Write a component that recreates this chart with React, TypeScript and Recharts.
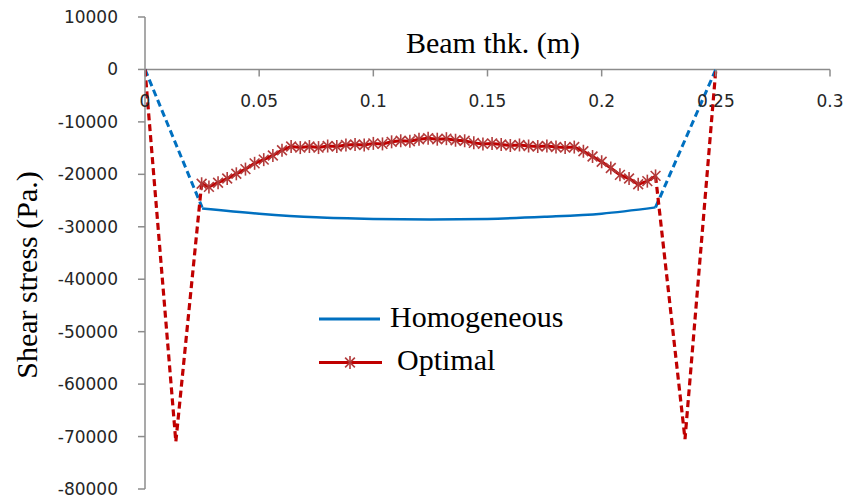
import React from 'react';
import { LineChart, Line, XAxis, YAxis, ReferenceLine } from 'recharts';

const xTicks = [0, 0.05, 0.1, 0.15, 0.2, 0.25, 0.3];
const yTicks = [10000, 0, -10000, -20000, -30000, -40000, -50000, -60000, -70000, -80000];

// Homogeneous: dashed edges + solid middle
const homLeftX = [0, 0.025];
const homLeftY = [0, -26300];
const homMidX = [0.025, 0.05, 0.075, 0.1, 0.125, 0.15, 0.175, 0.2, 0.2236];
const homMidY = [-26500, -27500, -28200, -28500, -28600, -28500, -28100, -27500, -26300];
const homRightX = [0.2236, 0.25];
const homRightY = [-26300, 0];

// Optimal: dashed edges + starred middle
const optLeftX = [0, 0.0135, 0.0248];
const optLeftY = [0, -71000, -21800];
const optMidX = [
  0.0248, 0.028, 0.032, 0.036, 0.04, 0.044, 0.048, 0.052, 0.056, 0.06, 0.064, 0.068, 0.072,
  0.076, 0.08, 0.084, 0.088, 0.092, 0.096, 0.1, 0.104, 0.108, 0.112, 0.116, 0.12, 0.124,
  0.128, 0.132, 0.136, 0.14, 0.144, 0.148, 0.152, 0.156, 0.16, 0.164, 0.168, 0.172, 0.176,
  0.18, 0.184, 0.188, 0.192, 0.196, 0.2, 0.204, 0.208, 0.212, 0.216, 0.22, 0.2236,
];
const optMidY = [
  -21800, -22400, -21600, -20800, -19900, -19000, -17900, -17200, -16400, -15400, -14700,
  -14900, -14700, -14900, -14600, -14700, -14400, -14300, -14400, -14100, -14200, -13800,
  -13600, -13700, -13300, -13100, -13300, -13200, -13500, -13600, -14000, -14200, -14100,
  -14300, -14500, -14400, -14600, -14700, -14600, -14800, -14900, -14800, -15600, -16600,
  -17600, -18800, -20100, -20800, -21900, -21300, -20300,
];
const optRightX = [0.2236, 0.2365, 0.25];
const optRightY = [-20300, -70500, 0];

const toPoints = (xs: number[], ys: number[]) => xs.map((x, i) => ({ x, y: ys[i] }));

const BLUE = '#0070c0';
const RED = '#c00000';
const STAR = '#b23a3a';
const AXIS = '#8c8c8c';
const TICK_TEXT = '#262626';
const SERIF = '"Liberation Serif", "Times New Roman", serif';
const SANS = '"DejaVu Sans", sans-serif';

const W = 847;
const H = 500;
const PLOT_TOP = 17;
const PLOT_BOTTOM = 489;
const Y_MAX = 10000;
const Y_MIN = -80000;
const zeroY = PLOT_TOP + ((PLOT_BOTTOM - PLOT_TOP) * Y_MAX) / (Y_MAX - Y_MIN);

function XTick(props: any) {
  const { x, payload } = props;
  return (
    <g>
      <line x1={x} x2={x} y1={zeroY} y2={zeroY + 7} stroke={AXIS} strokeWidth={1.5} />
      <text x={x} y={zeroY + 38} textAnchor="middle" fontSize={17} fontFamily={SANS} fill={TICK_TEXT}>
        {payload.value}
      </text>
    </g>
  );
}

function StarDot(props: any) {
  const { cx, cy, index } = props;
  const r = 6.5;
  const d = r * 0.75;
  return (
    <g key={'s' + index} stroke={STAR} strokeWidth={1.6}>
      <line x1={cx} y1={cy - r} x2={cx} y2={cy + r} />
      <line x1={cx - d} y1={cy - d} x2={cx + d} y2={cy + d} />
      <line x1={cx - d} y1={cy + d} x2={cx + d} y2={cy - d} />
    </g>
  );
}

export default function App() {
  return (
    <div style={{ position: 'relative', width: W, height: H, background: '#fff' }}>
      <style>{'body{margin:0}'}</style>
      <LineChart width={W} height={H} margin={{ top: PLOT_TOP - 1, right: 17, bottom: H - PLOT_BOTTOM, left: 0 }}>
        <XAxis
          dataKey="x"
          type="number"
          orientation="top"
          height={1}
          domain={[0, 0.3]}
          ticks={xTicks}
          axisLine={false}
          tickLine={false}
          tick={<XTick />}
          allowDataOverflow
        />
        <YAxis
          type="number"
          width={145}
          domain={[Y_MIN, Y_MAX]}
          ticks={yTicks}
          interval={0}
          stroke={AXIS}
          strokeWidth={1.5}
          tickSize={7}
          tickMargin={20}
          tick={{ fontSize: 17, fontFamily: SANS, fill: TICK_TEXT }}
        />
        <ReferenceLine y={0} stroke={AXIS} strokeWidth={1.5} />
        <Line data={toPoints(homLeftX, homLeftY)} dataKey="y" stroke={BLUE} strokeWidth={3} strokeDasharray="7 4" dot={false} isAnimationActive={false} />
        <Line data={toPoints(homMidX, homMidY)} dataKey="y" type="monotone" stroke={BLUE} strokeWidth={2.5} dot={false} isAnimationActive={false} />
        <Line data={toPoints(homRightX, homRightY)} dataKey="y" stroke={BLUE} strokeWidth={3} strokeDasharray="7 4" dot={false} isAnimationActive={false} />
        <Line data={toPoints(optLeftX, optLeftY)} dataKey="y" stroke={RED} strokeWidth={3.2} strokeDasharray="7 4" dot={false} isAnimationActive={false} />
        <Line data={toPoints(optRightX, optRightY)} dataKey="y" stroke={RED} strokeWidth={3.2} strokeDasharray="7 4" dot={false} isAnimationActive={false} />
        <Line data={toPoints(optMidX, optMidY)} dataKey="y" stroke={RED} strokeWidth={3} dot={<StarDot />} isAnimationActive={false} />
      </LineChart>
      <svg width={W} height={H} style={{ position: 'absolute', left: 0, top: 0, pointerEvents: 'none' }}>
        <text x={493} y={53} textAnchor="middle" fontSize={30} fontFamily={SERIF} fill="#000">
          Beam thk. (m)
        </text>
        <text
          x={0}
          y={0}
          transform="translate(37 275) rotate(-90)"
          textAnchor="middle"
          fontSize={30}
          fontFamily={SERIF}
          fill="#000"
        >
          Shear stress (Pa.)
        </text>
        <line x1={319} x2={380} y1={319} y2={319} stroke={BLUE} strokeWidth={3} />
        <text x={390} y={327} fontSize={30} fontFamily={SERIF} fill="#000">
          Homogeneous
        </text>
        <line x1={319} x2={382} y1={362.5} y2={362.5} stroke={RED} strokeWidth={3} />
        <StarDot cx={350} cy={362.5} index={0} />
        <text x={397} y={370} fontSize={30} fontFamily={SERIF} fill="#000">
          Optimal
        </text>
      </svg>
    </div>
  );
}
